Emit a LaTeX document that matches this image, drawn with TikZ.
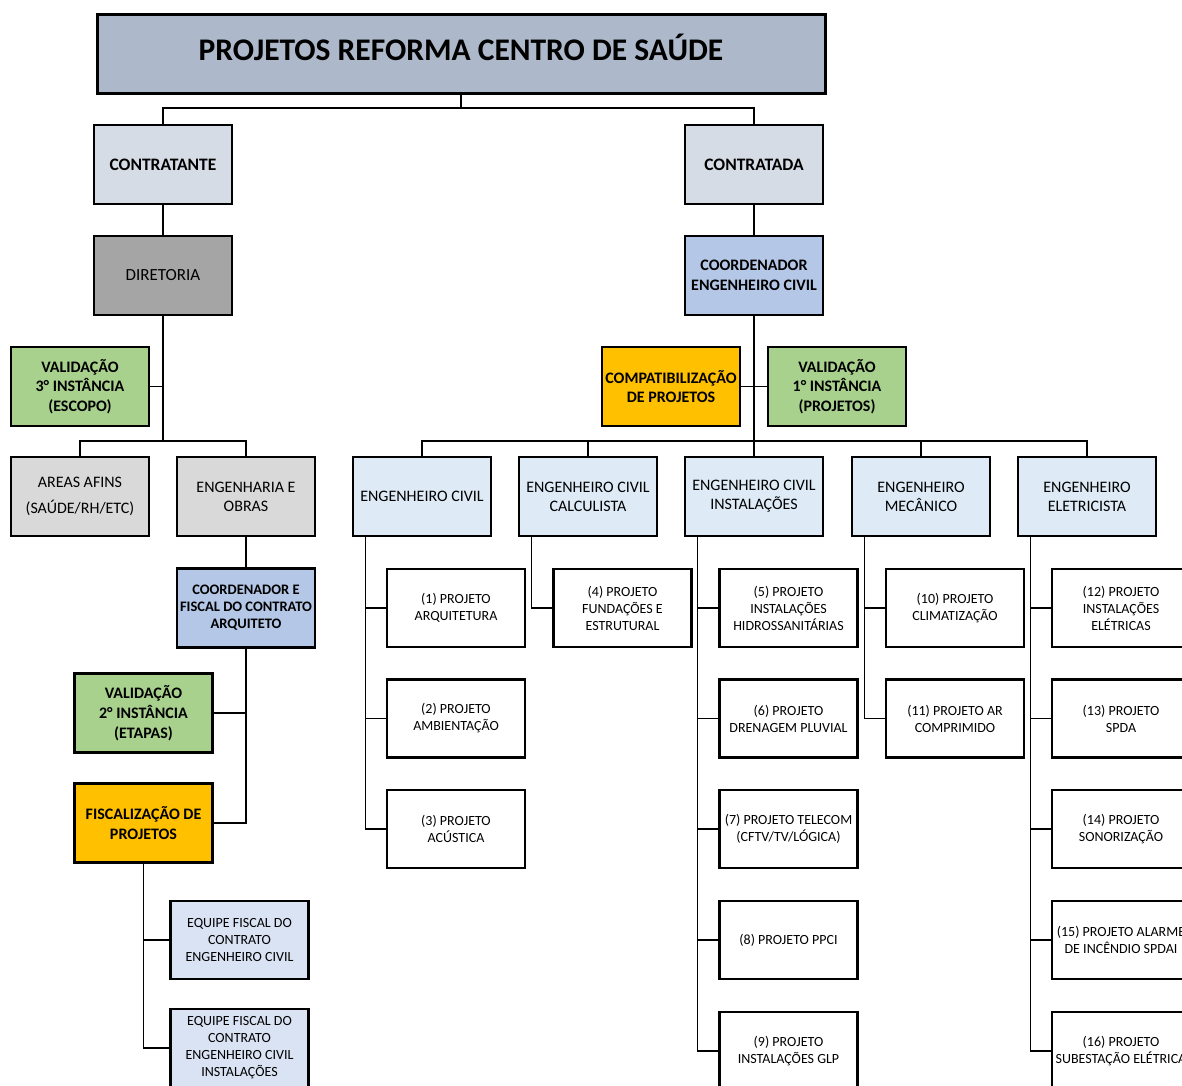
\documentclass[tikz,border=0pt]{standalone}
\usepackage{fontspec}
\setmainfont{Carlito}
\definecolor{titlefill}{HTML}{ADB9CA}
\definecolor{headfill}{HTML}{D6DCE5}
\definecolor{dirfill}{HTML}{A5A5A5}
\definecolor{coordfill}{HTML}{B4C7E7}
\definecolor{greenfill}{HTML}{A9D18E}
\definecolor{orangefill}{HTML}{FFC000}
\definecolor{grayfill}{HTML}{D9D9D9}
\definecolor{engfill}{HTML}{DEEBF7}
\definecolor{teamfill}{HTML}{DAE3F3}
\tikzset{
  box/.style={draw=black, line width=2.8pt, inner sep=0pt, minimum width=138pt,
    minimum height=79pt, align=center, text=black},
  titlebox/.style={box, line width=3pt, fill=titlefill, minimum width=728pt,
    text height=13pt, text depth=0pt,
    font=\fontsize{31.5}{36}\selectfont\bfseries},
  headbox/.style={box, fill=headfill, font=\fontsize{17.5}{21}\selectfont\bfseries},
  boldbox/.style={box, font=\fontsize{16}{19.5}\selectfont\bfseries},
  smallbold/.style={box, font=\fontsize{14.5}{17}\selectfont\bfseries},
  regbox/.style={box, font=\fontsize{16}{19}\selectfont},
  projbox/.style={box, fill=white, minimum height=78pt, font=\fontsize{14}{17}\selectfont},
  teambox/.style={projbox, fill=teamfill},
  link/.style={draw=black, line width=1.6pt}
}
\begin{document}
\begin{tikzpicture}[x=1pt, y=-1pt]
\useasboundingbox (0,0) rectangle (1182,1085);
\clip (0,0) rectangle (1182,1085);
\fill[white] (0,0) rectangle (1182,1085);

% top of the chart
\node[titlebox] (top) at (461,53.5) {PROJETOS REFORMA CENTRO DE SAÚDE};
\node[headbox] (ctte) at (163,164.5) {CONTRATANTE};
\node[headbox] (ctda) at (754,164.5) {CONTRATADA};
\coordinate (j0) at (461,108);
\draw[link] (top.south) -- (j0);
\draw[link] (ctte.north) |- (j0) -| (ctda.north);

% contracting side
\node[box, fill=dirfill, font=\fontsize{17}{20}\selectfont] (dir) at (163,275.5) {DIRETORIA};
\node[boldbox, fill=greenfill] (val3) at (80,386.5) {VALIDAÇÃO\\3° INSTÂNCIA\\(ESCOPO)};
\node[regbox, fill=grayfill] (areas) at (80,496.5) {AREAS AFINS\\[7pt](SAÚDE/RH/ETC)};
\node[regbox, fill=grayfill] (eng) at (246,496.5) {ENGENHARIA E\\OBRAS};
\node[smallbold, fill=coordfill] (coordf) at (246,608) {COORDENADOR E\\FISCAL DO CONTRATO\\ARQUITETO};
\node[box, fill=greenfill, font=\fontsize{16}{20}\selectfont\bfseries] (val2) at (143.5,713) {VALIDAÇÃO\\2° INSTÂNCIA\\(ETAPAS)};
\node[boldbox, fill=orangefill] (fisc) at (143.5,823) {FISCALIZAÇÃO DE\\PROJETOS};
\node[teambox] (eq1) at (239.5,940) {EQUIPE FISCAL DO\\CONTRATO\\ENGENHEIRO CIVIL};
\node[teambox] (eq2) at (239.5,1048) {EQUIPE FISCAL DO\\CONTRATO\\ENGENHEIRO CIVIL\\INSTALAÇÕES};

\coordinate (j1) at (163,441);
\draw[link] (ctte.south) -- (dir.north);
\draw[link] (dir.south) -- (j1);
\draw[link] (val3.east) -- (val3.east -| dir.south);
\draw[link] (areas.north) |- (j1) -| (eng.north);
\draw[link] (eng.south) -- (coordf.north);
\draw[link] (coordf.south) |- (fisc.east);
\draw[link] (val2.east) -- (val2.east -| coordf.south);
\draw[link] (fisc.south) |- (eq2.west);
\draw[link] (eq1.west) -- (eq1.west -| fisc.south);

% contracted side
\node[boldbox, fill=coordfill] (coord) at (754,275.5) {COORDENADOR\\ENGENHEIRO CIVIL};
\node[boldbox, fill=orangefill] (comp) at (671,386.5) {COMPATIBILIZAÇÃO\\DE PROJETOS};
\node[boldbox, fill=greenfill] (val1) at (837,386.5) {VALIDAÇÃO\\1° INSTÂNCIA\\(PROJETOS)};

\node[regbox, fill=engfill] (e1) at (422,496.5) {ENGENHEIRO CIVIL};
\node[regbox, fill=engfill] (e2) at (588,496.5) {ENGENHEIRO CIVIL\\CALCULISTA};
\node[regbox, fill=engfill] (e3) at (754,496.5) {ENGENHEIRO CIVIL\\INSTALAÇÕES};
\node[regbox, fill=engfill] (e4) at (921,496.5) {ENGENHEIRO\\MECÂNICO};
\node[regbox, fill=engfill] (e5) at (1087,496.5) {ENGENHEIRO\\ELETRICISTA};

\coordinate (j2) at (754,441);
\draw[link] (ctda.south) -- (coord.north);
\draw[link] (coord.south) -- (j2) -- (e3.north);
\draw[link] (comp.east) -- (val1.west);
\draw[link] (e1.north) |- (j2) -| (e5.north);
\draw[link] (e2.north) -- (e2.north |- j2);
\draw[link] (e4.north) -- (e4.north |- j2);

% design projects
\node[projbox] (p1) at (456,608) {(1) PROJETO\\ARQUITETURA};
\node[projbox] (p2) at (456,718.5) {(2) PROJETO\\AMBIENTAÇÃO};
\node[projbox] (p3) at (456,829) {(3) PROJETO\\ACÚSTICA};
\node[projbox] (p4) at (622.5,608) {(4) PROJETO\\FUNDAÇÕES E\\ESTRUTURAL};
\node[projbox] (p5) at (788.5,608) {(5) PROJETO\\INSTALAÇÕES\\HIDROSSANITÁRIAS};
\node[projbox] (p6) at (788.5,718.5) {(6) PROJETO\\DRENAGEM PLUVIAL};
\node[projbox] (p7) at (788.5,829) {(7) PROJETO TELECOM\\(CFTV/TV/LÓGICA)};
\node[projbox] (p8) at (788.5,940) {(8) PROJETO PPCI};
\node[projbox] (p9) at (788.5,1051) {(9) PROJETO\\INSTALAÇÕES GLP};
\node[projbox] (p10) at (955,608) {(10) PROJETO\\CLIMATIZAÇÃO};
\node[projbox] (p11) at (955,718.5) {(11) PROJETO AR\\COMPRIMIDO};
\node[projbox] (p12) at (1121,608) {(12) PROJETO\\INSTALAÇÕES\\ELÉTRICAS};
\node[projbox] (p13) at (1121,718.5) {(13) PROJETO\\SPDA};
\node[projbox] (p14) at (1121,829) {(14) PROJETO\\SONORIZAÇÃO};
\node[projbox] (p15) at (1121,940) {(15) PROJETO ALARME\\DE INCÊNDIO SPDAI};
\node[projbox] (p16) at (1121,1051) {(16) PROJETO\\SUBESTAÇÃO ELÉTRICA};

\coordinate (t1) at ([xshift=14pt]e1.south west);
\coordinate (t2) at ([xshift=14pt]e2.south west);
\coordinate (t3) at ([xshift=14pt]e3.south west);
\coordinate (t4) at ([xshift=14pt]e4.south west);
\coordinate (t5) at ([xshift=14pt]e5.south west);

\draw[link] (t1) |- (p3.west);
\foreach \p in {p1,p2} \draw[link] (\p.west) -- (\p.west -| t1);
\draw[link] (t2) |- (p4.west);
\draw[link] (t3) |- (p9.west);
\foreach \p in {p5,p6,p7,p8} \draw[link] (\p.west) -- (\p.west -| t3);
\draw[link] (t4) |- (p11.west);
\draw[link] (p10.west) -- (p10.west -| t4);
\draw[link] (t5) |- (p16.west);
\foreach \p in {p12,p13,p14,p15} \draw[link] (\p.west) -- (\p.west -| t5);
\end{tikzpicture}
\end{document}
